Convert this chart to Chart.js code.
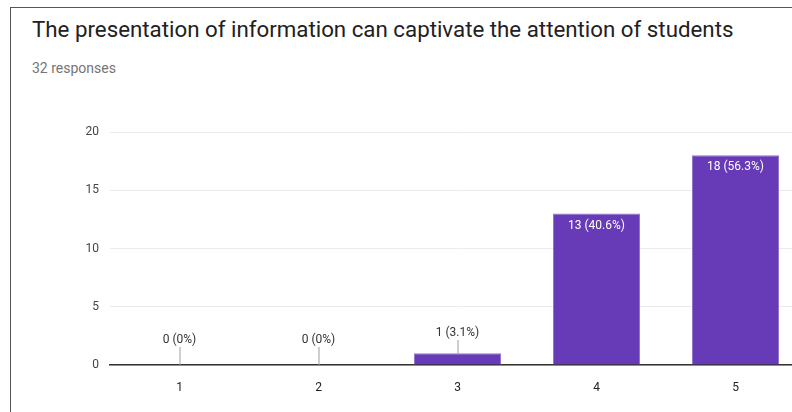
<!DOCTYPE html>
<html>
<head>
<meta charset="utf-8">
<script src="https://cdn.jsdelivr.net/npm/chart.js@4.4.1/dist/chart.umd.min.js"></script>
<style>
  html, body { margin: 0; padding: 0; width: 792px; height: 412px; overflow: hidden; background: #fff; font-family: Roboto, "Noto Sans", sans-serif; }
  #card { position: absolute; left: 10px; top: 7px; width: 900px; height: 500px; border-top: 1.5px solid #555; border-left: 1.5px solid #555; }
  #title { position: absolute; left: 32px; top: 16px; font-size: 22.3px; color: #212121; white-space: nowrap; }
  #sub { position: absolute; left: 32px; top: 60px; font-size: 14px; color: #757575; }
  #wrap { position: absolute; left: 0; top: 100px; width: 830px; height: 312px; }
</style>
</head>
<body>
<div id="card"></div>
<div id="title">The presentation of information can captivate the attention of students</div>
<div id="sub">32 responses</div>
<div id="wrap"><canvas id="chart"></canvas></div>
<script>
const categories = ['1', '2', '3', '4', '5'];
const counts = [0, 0, 1, 13, 18];
const percents = ['0%', '0%', '3.1%', '40.6%', '56.3%'];
const yTicks = [0, 5, 10, 15, 20];

const ctx = document.getElementById('chart').getContext('2d');

// value labels: white inside tall bars, dark with a leader line above short ones
const barLabels = {
    id: 'barLabels',
    afterDatasetsDraw(chart) {
        const c = chart.ctx;
        const meta = chart.getDatasetMeta(0);
        const zeroY = chart.scales.y.getPixelForValue(0);
        c.save();
        c.font = '12px Roboto';
        c.textAlign = 'center';
        c.textBaseline = 'middle';
        meta.data.forEach((bar, i) => {
            const text = counts[i] + ' (' + percents[i] + ')';
            if (zeroY - bar.y > 24) {
                c.fillStyle = '#ffffff';
                c.fillText(text, bar.x, bar.y + 12);
            } else {
                const ty = bar.y - 25 + (zeroY - bar.y) * 0.4;
                c.strokeStyle = '#9e9e9e';
                c.lineWidth = 1;
                c.beginPath();
                c.moveTo(bar.x + 0.5, bar.y);
                c.lineTo(bar.x + 0.5, ty + 7);
                c.stroke();
                c.fillStyle = '#333333';
                c.fillText(text, bar.x, ty);
            }
        });
        c.restore();
    }
};

let chart = new Chart(ctx, {
    type: 'bar',
    data: {
        labels: categories,
        datasets: [{
            data: counts,
            backgroundColor: '#673ab7',
            borderColor: '#9575cd',
            borderWidth: { top: 1, left: 1, right: 1, bottom: 0 },
            categoryPercentage: 0.626,
            barPercentage: 1.0
        }]
    },
    options: {
        responsive: true,
        maintainAspectRatio: false,
        animation: false,
        layout: { padding: { top: 32, right: 25, left: 0, bottom: 0 } },
        plugins: { legend: { display: false }, tooltip: { enabled: false } },
        scales: {
            x: {
                grid: { display: false },
                border: { display: true, color: '#333333', width: 1.5 },
                ticks: { color: '#222222', font: { family: 'Roboto', size: 12 }, padding: 8 },
                afterFit(scale) { scale.height = 47; }
            },
            y: {
                min: 0,
                max: 20,
                afterBuildTicks(scale) { scale.ticks = yTicks.map(v => ({ value: v })); },
                grid: { color: '#ebebeb', drawTicks: false },
                border: { display: false },
                ticks: { color: '#444444', font: { family: 'Roboto', size: 12 }, padding: 11 },
                afterFit(scale) { scale.width = 110; }
            }
        }
    },
    plugins: [barLabels]
});
</script>
</body>
</html>
